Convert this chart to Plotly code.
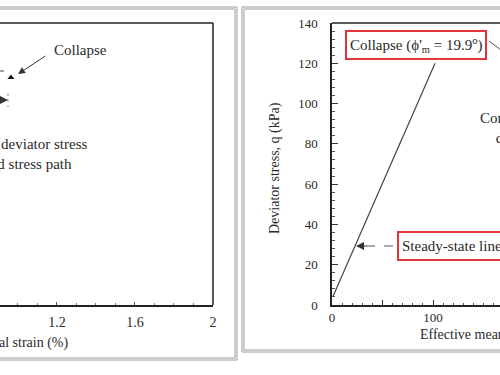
import plotly.graph_objects as go

# ---- data ----
ssl_p = [0.7, 102]          # effective mean stress (kPa)
ssl_q = [4, 120]            # deviator stress (kPa)
collapse_strain = [0.964]   # axial strain (%)
collapse_q = [113]          # deviator stress (kPa)
left_tickvals = [1.2, 1.6, 2.0]
left_ticktext = ["1.2", "1.6", "2"]
right_y_ticks = [0, 20, 40, 60, 80, 100, 120, 140]
right_x_tickvals = [0, 100]
right_x_ticktext = ["0", "100"]

W, H = 500, 375
FONT = "Liberation Serif"
TXT = "#2a2a2a"


def px(x):
    return x / W


def py(y):
    return 1 - y / H


fig = go.Figure()

fig.add_trace(go.Scatter(
    x=collapse_strain, y=collapse_q, mode="markers",
    marker=dict(symbol="triangle-up", size=6, color="#111"),
    xaxis="x", yaxis="y", showlegend=False, hoverinfo="skip"))

fig.add_trace(go.Scatter(
    x=ssl_p, y=ssl_q, mode="lines",
    line=dict(color="#444", width=1.2),
    xaxis="x2", yaxis="y2", showlegend=False, hoverinfo="skip"))

ydom = [py(305), py(23)]

fig.update_layout(
    template="none",
    width=W, height=H,
    margin=dict(l=0, r=0, t=0, b=0, pad=0),
    paper_bgcolor="white", plot_bgcolor="white",
    font=dict(family=FONT, color=TXT, size=13),
    xaxis=dict(domain=[0, px(213)], range=[0.908, 2.0], automargin=False,
               tickvals=left_tickvals, ticktext=left_ticktext,
               ticks="inside", ticklen=3, tickcolor="#555",
               minor=dict(dtick=0.1, ticks="inside", ticklen=2, tickcolor="#777"),
               showline=True, linecolor="#222", linewidth=1.5,
               showgrid=False, zeroline=False,
               ticklabelstandoff=3, tickfont=dict(size=14, family=FONT, color=TXT)),
    yaxis=dict(domain=ydom, range=[0, 140], visible=False, automargin=False),
    xaxis2=dict(domain=[px(332), 1], range=[0, 166.3], anchor="y2", automargin=False,
                tickvals=right_x_tickvals, ticktext=right_x_ticktext,
                ticks="inside", ticklen=5, tickcolor="#333",
                minor=dict(dtick=10, ticks="inside", ticklen=2, tickcolor="#555"),
                showline=True, linecolor="#222", linewidth=1.5,
                showgrid=False, zeroline=False,
                ticklabelstandoff=0, tickfont=dict(size=13, family=FONT, color=TXT)),
    yaxis2=dict(domain=ydom, range=[0, 140], anchor="x2", automargin=False,
                tickvals=right_y_ticks,
                ticks="inside", ticklen=6, tickcolor="#333",
                minor=dict(dtick=4, ticks="inside", ticklen=3, tickcolor="#555"),
                showline=True, linecolor="#222", linewidth=1.5,
                showgrid=False, zeroline=False,
                ticklabelstandoff=10, tickfont=dict(size=13, family=FONT, color=TXT)),
)

shapes = []


def pline(x0, y0, x1, y1, color="#222", width=1.5, dash="solid"):
    shapes.append(dict(type="line", xref="paper", yref="paper",
                       x0=px(x0), y0=py(y0), x1=px(x1), y1=py(y1),
                       line=dict(color=color, width=width, dash=dash)))


# plot-area borders
pline(-5, 23, 213, 23)          # left top
pline(213, 23, 213, 305)        # left right
pline(332, 23, 505, 23)         # right top

# taller inward tick at p' = 50 on the right panel
shapes.append(dict(type="line", xref="x2", yref="paper", x0=50, x1=50,
                   y0=py(305), y1=py(300), line=dict(color="#333", width=1)))

# outer double frames (scanned panel borders)
for off in (0, 2):
    pline(-5, 7 + off, 237 - off, 7 + off, color="#999", width=1)
    pline(237 - off, 7 + off, 237 - off, 360 - off, color="#999", width=1)
    pline(-5, 360 - off, 237 - off, 360 - off, color="#999", width=1)
    pline(242 + off, 7 + off, 505, 7 + off, color="#999", width=1)
    pline(242 + off, 7 + off, 242 + off, 352 - off, color="#999", width=1)
    pline(242 + off, 352 - off, 505, 352 - off, color="#999", width=1)

# small marks in left panel
pline(8, 93, 8, 107, color="#999", width=1, dash="dot")
pline(0, 71, 4, 71, color="#444", width=1)

# dashed leader for steady-state arrow
pline(366, 246, 393, 246, color="#555", width=1, dash="dash")
# leader from collapse box
pline(489, 41, 505, 53, color="#555", width=1)

fig.update_layout(shapes=shapes)

ann = []


def text(x, y, s, size=15, xanchor="center", yanchor="middle", **kw):
    d = dict(xref="paper", yref="paper", x=px(x), y=py(y), text=s,
             showarrow=False, xanchor=xanchor, yanchor=yanchor,
             font=dict(size=size, family=FONT, color=TXT))
    d.update(kw)
    ann.append(d)


def arrow(hx, hy, tx, ty, size=1.4):
    ann.append(dict(xref="paper", yref="paper", x=px(hx), y=py(hy),
                    ax=tx - hx, ay=ty - hy, text="", showarrow=True,
                    arrowhead=2, arrowsize=size, arrowwidth=1,
                    arrowcolor="#333", standoff=0))


# left panel
text(52, 50, "Collapse", xanchor="left")
arrow(18, 74, 47, 55)
arrow(8, 100, -20, 100, size=1.6)
text(15, 154, "Constant deviator stress<br>drained stress path")
text(71, 343, "Axial strain (%)", size=14, xanchor="right")

# right panel
text(416, 45, "Collapse (ϕ'<sub>m</sub> = 19.9<sup>o</sup>)",
     bordercolor="#e0353b", borderwidth=2, borderpad=3, bgcolor="white")
text(397, 246, "Steady-state line (ϕ'<sub>s</sub> = 30.0<sup>o</sup>)",
     xanchor="left", bordercolor="#e0353b", borderwidth=2, borderpad=3,
     bgcolor="white")
arrow(356, 246, 368, 246, size=1.6)
text(478, 128, "Constant deviator stress<br>drained stress path",
     xanchor="left", align="center")
text(275, 168, "Deviator stress, q (kPa)", size=14, textangle=-90)
text(418, 335, "Effective mean stress, p' (kPa)", size=14, xanchor="left")

fig.update_layout(annotations=ann)

fig.write_html(
    "out.html",
    config={"displayModeBar": False},
    post_script="document.body.style.margin='0';document.body.style.overflow='hidden';",
)
